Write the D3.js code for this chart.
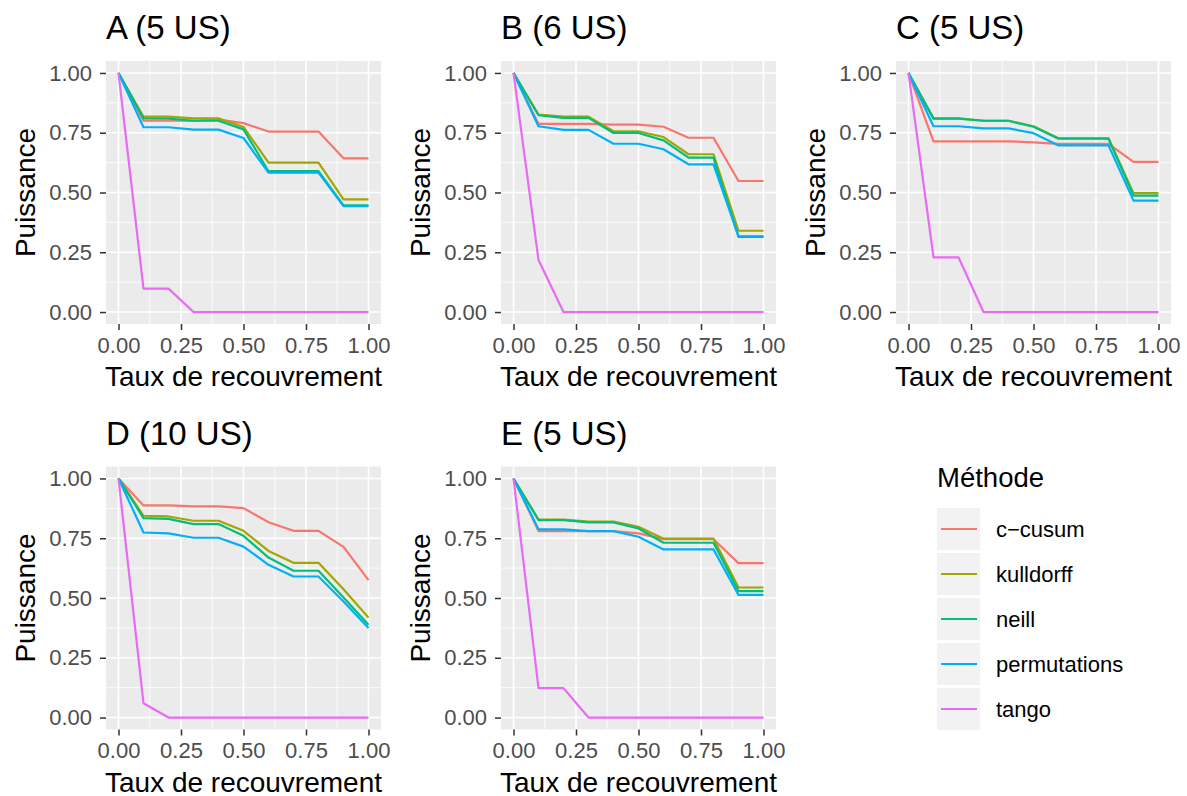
<!DOCTYPE html>
<html>
<head>
<meta charset="utf-8">
<script src="https://cdn.jsdelivr.net/npm/d3@7"></script>
<style>
  body { margin: 0; background: #fff; }
  svg text { font-family: "Liberation Sans", Arial, sans-serif; }
</style>
</head>
<body>
<div id="canvas"></div>
<script>
// taux de recouvrement (x) and the five panels
const taux = [0, 0.1, 0.2, 0.3, 0.4, 0.5, 0.6, 0.7, 0.8, 0.9, 1.0];
const panelTitles = ["A (5 US)", "B (6 US)", "C (5 US)", "D (10 US)", "E (5 US)"];
const methodes = ["c\u2212cusum", "kulldorff", "neill", "permutations", "tango"];
const yTicks = [0, 0.25, 0.5, 0.75, 1];
const xTicks = [0, 0.25, 0.5, 0.75, 1];

// puissance per method, one row per panel (A..E)
const cCusum = [
  [1, 0.80, 0.80, 0.80, 0.805, 0.79, 0.755, 0.755, 0.755, 0.643, 0.643],
  [1, 0.787, 0.787, 0.787, 0.784, 0.784, 0.775, 0.729, 0.729, 0.548, 0.548],
  [1, 0.714, 0.714, 0.714, 0.714, 0.71, 0.703, 0.703, 0.703, 0.628, 0.628],
  [1, 0.887, 0.887, 0.883, 0.883, 0.876, 0.817, 0.781, 0.781, 0.714, 0.575],
  [1, 0.78, 0.78, 0.78, 0.78, 0.77, 0.746, 0.746, 0.746, 0.646, 0.646]
];
const kulldorff = [
  [1, 0.817, 0.817, 0.81, 0.81, 0.774, 0.625, 0.625, 0.625, 0.471, 0.471],
  [1, 0.826, 0.817, 0.817, 0.756, 0.756, 0.732, 0.66, 0.66, 0.34, 0.34],
  [1, 0.81, 0.81, 0.80, 0.80, 0.777, 0.727, 0.727, 0.727, 0.497, 0.497],
  [1, 0.844, 0.841, 0.823, 0.823, 0.781, 0.697, 0.647, 0.647, 0.537, 0.418],
  [1, 0.828, 0.828, 0.82, 0.82, 0.798, 0.748, 0.748, 0.748, 0.544, 0.544]
];
const neill = [
  [1, 0.81, 0.809, 0.80, 0.80, 0.764, 0.589, 0.589, 0.589, 0.446, 0.446],
  [1, 0.823, 0.812, 0.812, 0.749, 0.749, 0.718, 0.646, 0.646, 0.314, 0.314],
  [1, 0.809, 0.809, 0.80, 0.80, 0.775, 0.725, 0.725, 0.725, 0.487, 0.487],
  [1, 0.834, 0.831, 0.809, 0.809, 0.76, 0.669, 0.614, 0.614, 0.502, 0.388],
  [1, 0.826, 0.826, 0.816, 0.816, 0.791, 0.731, 0.731, 0.731, 0.529, 0.529]
];
const permutations = [
  [1, 0.773, 0.773, 0.763, 0.763, 0.728, 0.583, 0.583, 0.583, 0.443, 0.443],
  [1, 0.777, 0.762, 0.762, 0.704, 0.704, 0.681, 0.618, 0.618, 0.317, 0.317],
  [1, 0.777, 0.777, 0.768, 0.768, 0.748, 0.697, 0.697, 0.697, 0.466, 0.466],
  [1, 0.774, 0.77, 0.752, 0.752, 0.715, 0.639, 0.59, 0.59, 0.485, 0.375],
  [1, 0.787, 0.787, 0.78, 0.78, 0.756, 0.703, 0.703, 0.703, 0.513, 0.513]
];
const tango = [
  [1, 0.098, 0.098, 0, 0, 0, 0, 0, 0, 0, 0],
  [1, 0.218, 0, 0, 0, 0, 0, 0, 0, 0, 0],
  [1, 0.229, 0.229, 0, 0, 0, 0, 0, 0, 0, 0],
  [1, 0.06, 0, 0, 0, 0, 0, 0, 0, 0, 0],
  [1, 0.123, 0.123, 0, 0, 0, 0, 0, 0, 0, 0]
];

const series = [cCusum, kulldorff, neill, permutations, tango];
const colors = ["#F8766D", "#A3A500", "#00BF7D", "#00B0F6", "#E76BF3"];

const svg = d3.select("#canvas").append("svg")
  .attr("width", 1187)
  .attr("height", 796);

const colLeft = [106, 501, 896];
const rowTop = [61, 466.5];
const pw = 275, ph = 263;

const line = d3.line();

panelTitles.forEach((title, p) => {
  const left = colLeft[p % 3];
  const top = rowTop[Math.floor(p / 3)];

  const x = d3.scaleLinear().domain([-0.05, 1.05]).range([0, pw]);
  const y = d3.scaleLinear().domain([-0.05, 1.05]).range([ph, 0]);

  const g = svg.append("g").attr("transform", `translate(${left},${top})`);

  g.append("rect").attr("width", pw).attr("height", ph).attr("fill", "#EBEBEB");

  // minor grid
  const minor = [0.125, 0.375, 0.625, 0.875];
  g.selectAll(".minx").data(minor).enter().append("line")
    .attr("x1", d => x(d)).attr("x2", d => x(d)).attr("y1", 0).attr("y2", ph)
    .attr("stroke", "#fff").attr("stroke-width", 0.8);
  g.selectAll(".miny").data(minor).enter().append("line")
    .attr("y1", d => y(d)).attr("y2", d => y(d)).attr("x1", 0).attr("x2", pw)
    .attr("stroke", "#fff").attr("stroke-width", 0.8);
  // major grid
  g.selectAll(".majx").data(xTicks).enter().append("line")
    .attr("x1", d => x(d)).attr("x2", d => x(d)).attr("y1", 0).attr("y2", ph)
    .attr("stroke", "#fff").attr("stroke-width", 1.6);
  g.selectAll(".majy").data(yTicks).enter().append("line")
    .attr("y1", d => y(d)).attr("y2", d => y(d)).attr("x1", 0).attr("x2", pw)
    .attr("stroke", "#fff").attr("stroke-width", 1.6);

  // lines
  series.forEach((s, m) => {
    g.append("path")
      .attr("d", line(taux.map((t, i) => [x(t), y(s[p][i])])))
      .attr("fill", "none")
      .attr("stroke", colors[m])
      .attr("stroke-width", 2.2)
      .attr("stroke-linejoin", "round");
  });

  // axes
  const xAxis = g.append("g").attr("transform", `translate(0,${ph})`)
    .call(d3.axisBottom(x).tickValues(xTicks).tickFormat(d3.format(".2f")).tickSize(6).tickPadding(7));
  const yAxis = g.append("g")
    .call(d3.axisLeft(y).tickValues(yTicks).tickFormat(d3.format(".2f")).tickSize(6).tickPadding(8));
  [xAxis, yAxis].forEach(a => {
    a.select(".domain").remove();
    a.selectAll(".tick line").attr("stroke", "#333333").attr("stroke-width", 1.5);
    a.selectAll(".tick text").attr("fill", "#4D4D4D").style("font-size", "22px")
      .style("font-family", "Liberation Sans, Arial, sans-serif");
  });

  // titles
  g.append("text").attr("x", 0).attr("y", -22)
    .style("font-size", "33px").attr("fill", "#000").text(title);
  g.append("text").attr("x", pw / 2).attr("y", 325)
    .attr("text-anchor", "middle").style("font-size", "28px").attr("fill", "#000")
    .text("Taux de recouvrement");
  g.append("text")
    .attr("transform", `translate(-71,${ph / 2}) rotate(-90)`)
    .attr("text-anchor", "middle").style("font-size", "28px").attr("fill", "#000")
    .text("Puissance");
});

// legend
const legend = svg.append("g").attr("transform", "translate(937,487)");
legend.append("text").attr("x", 0).attr("y", 0)
  .style("font-size", "27.5px").attr("fill", "#000").text("Méthode");
methodes.forEach((name, i) => {
  const k = legend.append("g").attr("transform", `translate(0,${21 + i * 45})`);
  k.append("rect").attr("width", 43).attr("height", 42).attr("fill", "#F2F2F2");
  k.append("line").attr("x1", 4).attr("x2", 40).attr("y1", 21).attr("y2", 21)
    .attr("stroke", colors[i]).attr("stroke-width", 2.2);
  k.append("text").attr("x", 59).attr("y", 21).attr("dy", "0.35em")
    .style("font-size", "22px").attr("fill", "#000").text(name);
});
</script>
</body>
</html>
